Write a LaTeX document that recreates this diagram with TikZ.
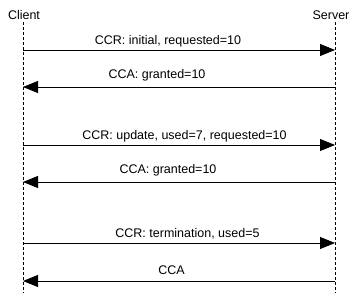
\documentclass[tikz,border=0pt]{standalone}
\usepackage{fontspec}
\setmainfont{Liberation Sans}
\usetikzlibrary{arrows.meta}
\begin{document}
\begin{tikzpicture}[x=1pt,y=-1pt,
  lbl/.style={font=\fontsize{12.5}{14}\selectfont,inner sep=0pt,anchor=base},
  life/.style={line width=0.9pt,dash pattern=on 3pt off 2pt},
  msg/.style={line width=0.9pt,-{Triangle[length=15pt,width=12pt]}},
  mlbl/.style={font=\fontsize{12.5}{14}\selectfont,inner sep=0pt,anchor=base}]
\useasboundingbox (0,0) rectangle (361,307);
\fill[white] (0,0) rectangle (361,307);
\node[lbl] (client) at (24,19.5) {Client};
\node[lbl] (server) at (331,19.5) {Server};
\coordinate (ct) at (23,22);
\coordinate (cb) at (23,293);
\coordinate (st) at (335,22);
\coordinate (sb) at (335,293);
\draw[life] (ct) -- (cb);
\draw[life] (st) -- (sb);
% messages
\foreach \n/\y in {1/50,2/87,3/145,4/182,5/243,6/281}{
  \coordinate (c\n) at (23,\y);
  \coordinate (s\n) at (335,\y);
}
\draw[msg] (c1) -- (s1);
\draw[msg] (s2) -- (c2);
\draw[msg] (c3) -- (s3);
\draw[msg] (s4) -- (c4);
\draw[msg] (c5) -- (s5);
\draw[msg] (s6) -- (c6);
\node[mlbl] (l1) at (168,44.5) {CCR: initial, requested=10};
\node[mlbl] (l2) at (157,79) {CCA: granted=10};
\node[mlbl] (l3) at (184.5,139.5) {CCR: update, used=7, requested=10};
\node[mlbl] (l4) at (168,174) {CCA: granted=10};
\node[mlbl] (l5) at (187.5,237.5) {CCR: termination, used=5};
\node[mlbl] (l6) at (171.5,274.5) {CCA};
\end{tikzpicture}
\end{document}
